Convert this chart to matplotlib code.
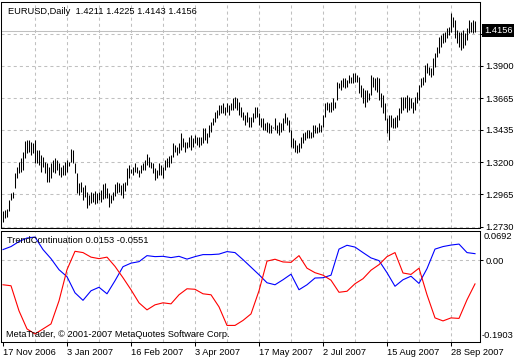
import matplotlib
matplotlib.use('Agg')
import matplotlib.pyplot as plt
import matplotlib.transforms as mtransforms

plt.rcParams['font.family'] = ['Liberation Sans', 'DejaVu Sans']
plt.rcParams['font.size'] = 6.7
plt.rcParams['lines.scale_dashes'] = False

# EURUSD daily bars, 17 Nov 2006 .. mid Oct 2007 (high / low)
highs = [1.2844, 1.2851, 1.2856, 1.2924, 1.2973, 1.2984, 1.3118, 1.3166, 1.3203, 1.3228,
         1.3276, 1.3353, 1.3361, 1.3361, 1.3348, 1.3337, 1.3361, 1.3288, 1.3288, 1.3252,
         1.3239, 1.3203, 1.3191, 1.3166, 1.3191, 1.3215, 1.3228, 1.3215, 1.3191, 1.3166,
         1.3179, 1.3203, 1.3215, 1.3201, 1.3295, 1.3288, 1.3191, 1.3118, 1.3046, 1.3057,
         1.3021, 1.3033, 1.2984, 1.2960, 1.2984, 1.2973, 1.2990, 1.2973, 1.2984, 1.2997,
         1.3038, 1.3046, 1.3009, 1.2973, 1.2960, 1.2984, 1.3038, 1.3057, 1.3046, 1.3033,
         1.3048, 1.3057, 1.3155, 1.3179, 1.3150, 1.3166, 1.3191, 1.3166, 1.3142, 1.3179,
         1.3191, 1.3215, 1.3259, 1.3239, 1.3203, 1.3191, 1.3155, 1.3142, 1.3191, 1.3179,
         1.3166, 1.3215, 1.3228, 1.3244, 1.3252, 1.3337, 1.3324, 1.3312, 1.3337, 1.3410,
         1.3373, 1.3348, 1.3348, 1.3385, 1.3397, 1.3373, 1.3397, 1.3385, 1.3385, 1.3385,
         1.3446, 1.3446, 1.3410, 1.3470, 1.3494, 1.3519, 1.3567, 1.3579, 1.3616, 1.3616,
         1.3628, 1.3603, 1.3628, 1.3616, 1.3628, 1.3664, 1.3676, 1.3664, 1.3640, 1.3603,
         1.3567, 1.3543, 1.3567, 1.3530, 1.3530, 1.3555, 1.3603, 1.3603, 1.3555, 1.3519,
         1.3519, 1.3482, 1.3494, 1.3482, 1.3470, 1.3458, 1.3519, 1.3470, 1.3494, 1.3482,
         1.3519, 1.3555, 1.3530, 1.3506, 1.3434, 1.3373, 1.3361, 1.3324, 1.3337, 1.3385,
         1.3410, 1.3421, 1.3434, 1.3434, 1.3421, 1.3470, 1.3470, 1.3458, 1.3482, 1.3470,
         1.3543, 1.3628, 1.3640, 1.3628, 1.3640, 1.3664, 1.3640, 1.3785, 1.3774, 1.3798,
         1.3810, 1.3810, 1.3798, 1.3834, 1.3822, 1.3846, 1.3846, 1.3834, 1.3822, 1.3761,
         1.3737, 1.3725, 1.3725, 1.3701, 1.3834, 1.3822, 1.3810, 1.3822, 1.3810, 1.3701,
         1.3688, 1.3628, 1.3519, 1.3543, 1.3543, 1.3519, 1.3530, 1.3543, 1.3592, 1.3676,
         1.3676, 1.3676, 1.3688, 1.3676, 1.3664, 1.3640, 1.3676, 1.3712, 1.3761, 1.3810,
         1.3822, 1.3907, 1.3919, 1.3894, 1.3883, 1.3956, 1.3992, 1.4040, 1.4113, 1.4125,
         1.4138, 1.4149, 1.4174, 1.4186, 1.4283, 1.4258, 1.4234, 1.4162, 1.4149, 1.4149,
         1.4162, 1.4138, 1.4174, 1.4234, 1.4222, 1.4234, 1.4225]
lows = [1.2762, 1.2795, 1.2802, 1.2844, 1.2924, 1.2936, 1.3009, 1.3082, 1.3118, 1.3130,
        1.3142, 1.3228, 1.3264, 1.3276, 1.3252, 1.3264, 1.3191, 1.3191, 1.3179, 1.3130,
        1.3166, 1.3118, 1.3057, 1.3053, 1.3082, 1.3130, 1.3118, 1.3142, 1.3106, 1.3094,
        1.3106, 1.3106, 1.3130, 1.3172, 1.3203, 1.3191, 1.3118, 1.2973, 1.2960, 1.2984,
        1.2924, 1.2948, 1.2864, 1.2888, 1.2900, 1.2912, 1.2893, 1.2900, 1.2924, 1.2912,
        1.2931, 1.2936, 1.2941, 1.2875, 1.2900, 1.2924, 1.2955, 1.2973, 1.2984, 1.2960,
        1.2938, 1.2990, 1.3033, 1.3086, 1.3118, 1.3106, 1.3126, 1.3118, 1.3094, 1.3118,
        1.3142, 1.3142, 1.3179, 1.3166, 1.3155, 1.3118, 1.3070, 1.3082, 1.3106, 1.3106,
        1.3082, 1.3142, 1.3166, 1.3166, 1.3191, 1.3239, 1.3276, 1.3252, 1.3264, 1.3288,
        1.3312, 1.3276, 1.3300, 1.3312, 1.3288, 1.3312, 1.3337, 1.3324, 1.3312, 1.3324,
        1.3337, 1.3361, 1.3337, 1.3385, 1.3421, 1.3470, 1.3494, 1.3519, 1.3543, 1.3555,
        1.3555, 1.3543, 1.3567, 1.3543, 1.3579, 1.3579, 1.3592, 1.3579, 1.3543, 1.3530,
        1.3506, 1.3470, 1.3494, 1.3458, 1.3458, 1.3494, 1.3519, 1.3530, 1.3470, 1.3458,
        1.3434, 1.3434, 1.3421, 1.3410, 1.3410, 1.3446, 1.3434, 1.3410, 1.3397, 1.3421,
        1.3434, 1.3482, 1.3470, 1.3421, 1.3312, 1.3300, 1.3276, 1.3264, 1.3276, 1.3300,
        1.3337, 1.3361, 1.3373, 1.3373, 1.3373, 1.3385, 1.3410, 1.3410, 1.3421, 1.3421,
        1.3458, 1.3530, 1.3579, 1.3567, 1.3567, 1.3579, 1.3592, 1.3652, 1.3737, 1.3725,
        1.3749, 1.3737, 1.3749, 1.3774, 1.3774, 1.3774, 1.3785, 1.3785, 1.3701, 1.3676,
        1.3628, 1.3603, 1.3640, 1.3652, 1.3688, 1.3749, 1.3725, 1.3712, 1.3652, 1.3603,
        1.3555, 1.3506, 1.3410, 1.3361, 1.3458, 1.3446, 1.3446, 1.3458, 1.3506, 1.3555,
        1.3579, 1.3592, 1.3567, 1.3579, 1.3592, 1.3555, 1.3579, 1.3628, 1.3652, 1.3749,
        1.3761, 1.3785, 1.3846, 1.3834, 1.3822, 1.3834, 1.3894, 1.3967, 1.3992, 1.4040,
        1.4065, 1.4076, 1.4101, 1.4125, 1.4149, 1.4186, 1.4101, 1.4065, 1.4040, 1.4016,
        1.4028, 1.4052, 1.4089, 1.4138, 1.4149, 1.4138, 1.4143]
bars = list(range(len(highs)))

last_ohlc = ['1.4211', '1.4225', '1.4143', '1.4156']
last_close = 1.4156

date_bars = [0, 32, 64, 96, 128, 160, 192, 224]
date_labels = ['17 Nov 2006', '3 Jan 2007', '16 Feb 2007', '3 Apr 2007',
               '17 May 2007', '2 Jul 2007', '15 Aug 2007', '28 Sep 2007']

price_ticks = [1.2730, 1.2965, 1.3200, 1.3435, 1.3665, 1.3900, 1.4135]
price_labels = ['1.2730', '1.2965', '1.3200', '1.3435', '1.3665', '1.3900', '']

# TrendContinuation indicator, read every 4th bar
tc_bars = list(range(0, 237, 4))
tc_blue = [0.0248, 0.0318, 0.0435, 0.0517, 0.0540, 0.0248, 0.0037, -0.0220, -0.0383, -0.0758,
           -0.0933, -0.0711, -0.0629, -0.0781, -0.0477, -0.0150, -0.0068, -0.0033, 0.0107, 0.0084,
           0.0091, 0.0061, 0.0091, 0.0026, 0.0084, 0.0131, 0.0131, 0.0143, 0.0201, 0.0178,
           0.0014, -0.0161, -0.0337, -0.0524, -0.0571, -0.0454, -0.0325, -0.0687, -0.0571, -0.0414,
           -0.0407, -0.0348, 0.0259, 0.0348, 0.0306, 0.0178, 0.0054, -0.0009, -0.0290, -0.0606,
           -0.0454, -0.0372, -0.0540, -0.0196, 0.0259, 0.0318, 0.0353, 0.0376, 0.0178, 0.0153]
tc_red = [-0.0571, -0.0594, -0.1178, -0.1599, -0.1716, -0.1599, -0.1482, -0.0945, -0.0220, 0.0208,
          0.0178, 0.0072, 0.0037, 0.0072, -0.0143, -0.0407, -0.0687, -0.0991, -0.1155, -0.1038,
          -0.0991, -0.1015, -0.0804, -0.0664, -0.0676, -0.0781, -0.0804, -0.1085, -0.1517, -0.1517,
          -0.1401, -0.1249, -0.0711, -0.0021, 0.0023, -0.0040, -0.0049, 0.0107, -0.0185, -0.0290,
          -0.0348, -0.0465, -0.0746, -0.0722, -0.0547, -0.0430, -0.0232, -0.0103, 0.0084, 0.0178,
          -0.0297, -0.0330, -0.0185, -0.0804, -0.1342, -0.1412, -0.1342, -0.1354, -0.0921, -0.0551]
tc_max, tc_min = 0.0692, -0.1903

grid_col = '#c0c0c0'
dash = (0, (2.2, 2.2))
lw = 0.75

fig = plt.figure(figsize=(5.2, 3.6), dpi=100)
ax = fig.add_axes([1 / 520, 1 - 228 / 360, 479 / 520, 226 / 360])
ax2 = fig.add_axes([1 / 520, 18 / 360, 479 / 520, 111.5 / 360])

for a in (ax, ax2):
    a.set_xlim(-1, 238.5)
    for b in range(16, 237, 16):
        a.axvline(b, color=grid_col, ls=dash, lw=lw, zorder=0)
    for s in a.spines.values():
        s.set_linewidth(lw)
    a.yaxis.tick_right()

# --- price panel
for p in price_ticks:
    ax.axhline(p, color=grid_col, ls=dash, lw=lw, zorder=0)
ax.axhline(last_close, color=grid_col, lw=lw, zorder=0)
ax.vlines(bars, lows, highs, colors='black', lw=lw, zorder=2)
ax.set_ylim(1.2720, 1.4365)
ax.set_xticks([])
ax.set_yticks(price_ticks)
ax.set_yticklabels(price_labels)
ax.tick_params(axis='y', direction='out', length=2.5, width=lw, pad=1.2)
ax.text(7 / 479, 0.958, 'EURUSD,Daily  ' + ' '.join(last_ohlc),
        transform=ax.transAxes, ha='left', va='center')
trans = mtransforms.blended_transform_factory(ax.transAxes, ax.transData)
ax.text(1.0085, last_close, '1.4156', transform=trans, ha='left', va='center',
        color='white', bbox=dict(boxstyle='square,pad=0.2', fc='black', ec='none'))

# --- indicator panel
ax2.axhline(0, color=grid_col, ls=dash, lw=lw, zorder=0)
ax2.plot(tc_bars, tc_blue, color='#0000ff', lw=0.8)
ax2.plot(tc_bars, tc_red, color='#ff0000', lw=0.8)
ax2.set_ylim(tc_min, tc_max)
ax2.set_yticks([0])
ax2.set_yticklabels(['0.00'])
ax2.tick_params(axis='y', direction='out', length=2.5, width=lw, pad=1.2)
ax2.text(1.0085, 0.942, '0.0692', transform=ax2.transAxes, ha='left', va='center')
ax2.text(1.004, 0.054, '-0.1903', transform=ax2.transAxes, ha='left', va='center')
ax2.set_xticks(date_bars)
ax2.set_xticklabels(date_labels)
for t in ax2.get_xticklabels():
    t.set_ha('left')
ax2.tick_params(axis='x', direction='out', length=3, width=lw, pad=1.5)
ax2.text(6 / 479, 0.906, 'TrendContinuation %.4f %.4f' % (tc_blue[-1], tc_red[-1]),
         transform=ax2.transAxes, ha='left', va='center')
ax2.text(5 / 479, 0.063, 'MetaTrader, \u00a9 2001-2007 MetaQuotes Software Corp.',
         transform=ax2.transAxes, ha='left', va='center')

fig.savefig('out.png', dpi=100)
